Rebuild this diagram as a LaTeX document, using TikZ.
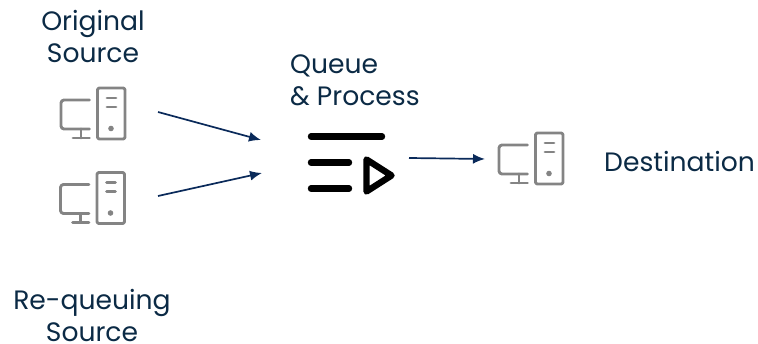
\documentclass[tikz,border=0pt]{standalone}
\usepackage{fontspec}
\setmainfont{Poppins}
\usetikzlibrary{arrows.meta}
\definecolor{ink}{HTML}{0B2A45}
\definecolor{arrowc}{HTML}{0A2A5A}
\definecolor{icong}{HTML}{848484}
\tikzset{
  lbl/.style={text=ink,font=\fontsize{26.6}{32}\selectfont,inner sep=0pt,align=center},
  lbll/.style={lbl,align=left},
  conn/.style={draw=arrowc,line width=1.7pt,-{Latex[length=12pt,width=10pt]}},
  ic/.style={draw=icong,line width=2.9pt,line cap=round,line join=round},
  qbar/.style={draw=black,line width=6.4pt,line cap=round,line join=round},
  pics/host/.style={code={
    \draw[ic,rounded corners=2pt] (37.5,0) rectangle (65,51);
    \draw[ic] (47,10) -- (56,10);
    \draw[ic] (47,19) -- (56,19);
    \fill[icong] (51,40.5) circle (2.8);
    \draw[ic,rounded corners=3pt] (29.5,12) -- (1,12) -- (1,41) -- (29.5,41);
    \draw[ic] (21,41) -- (21,50);
    \draw[ic] (13,50) -- (29.5,50);
  }}
}
\begin{document}
\begin{tikzpicture}[x=1pt,y=-1pt]
\useasboundingbox (0,0) rectangle (758,344);
\node[lbl] (orig) at (93,36.5) {Original\\Source};
\node[lbl] (requeue) at (92,315) {Re-queuing\\Source};
\node[lbll,anchor=west] (queue) at (290,80) {Queue\\\& Process};
\node[lbl,anchor=west] (dest) at (604,162) {Destination};
\pic at (60,88) {host};
\pic at (59.5,172.5) {host};
\pic at (498,133) {host};
\draw[qbar] (311,136.5) -- (382,136.5);
\draw[qbar] (311,162.5) -- (349,162.5);
\draw[qbar] (311,188.5) -- (349,188.5);
\draw[qbar] (366.5,159.5) -- (366.5,191.5) -- (391.5,175.5) -- cycle;
\coordinate (a1) at (158,112);
\coordinate (a2) at (261,140);
\coordinate (b1) at (158,196);
\coordinate (b2) at (262,173);
\coordinate (c1) at (409,158);
\coordinate (c2) at (485,159);
\draw[conn] (a1) -- (a2);
\draw[conn] (b1) -- (b2);
\draw[conn] (c1) -- (c2);
\end{tikzpicture}
\end{document}
